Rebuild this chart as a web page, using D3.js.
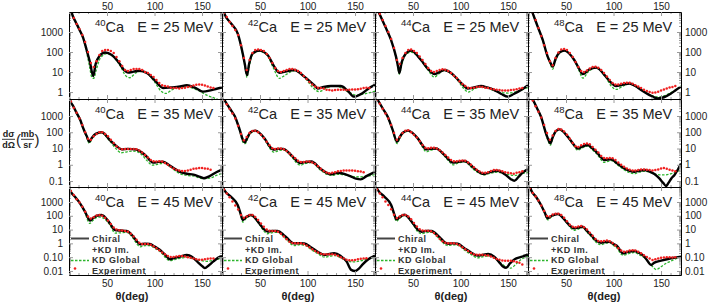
<!DOCTYPE html>
<html>
<head>
<meta charset="utf-8">
<script src="https://cdn.jsdelivr.net/npm/d3@7"></script>
<style>
body { margin: 0; background: #fff; }
svg { display: block; font-family: "Liberation Sans", Arial, sans-serif; }
</style>
</head>
<body>
<div id="chart"></div>
<script>
/*
 *  DATA
 */
var nuclei = ["40", "42", "44", "48"];
var energies = [25, 35, 45];
var thetaDomain = [10, 171];
var thetaTicks = [50, 100, 150];
var yTickRows = [[1, 10, 100, 1000], [0.1, 1, 10, 100, 1000], [0.01, 0.1, 1, 10, 100, 1000]];
var yTickText = [["1", "10", "100", "1000"], ["0.1", "1", "10", "100", "1000"], ["0.01", "0.10", "1", "10", "100", "1000"]];
var yDomains = [[0.45, 10000], [0.043, 11100], [0.0051, 12200]];
var legendText = ["Chiral", "+KD Im.", "KD Global", "Experiment"];

var expAngles = [12,15,18,21,24,27,30,33,36,39,42,45,48,51,54,57,60,63,66,69,72,75,78,81,84,87,90,93,96,99,102,105,108,111,114,117,120,123,126,129,132,135,138,141,144,147,150,153,156,159,162,165];

// 25 MeV
var chiral_40_25 = [[11,20000],[14,6300],[17,3200],[21,1300],[25,500],[28.5,130],[32,32],[35.5,6.3],[38,25],[42,63],[48,95],[55,71],[62,32],[68,12.6],[72,9.5],[78,10.5],[84,11.7],[92,8.9],[100,4],[109,1.6],[117,1.7],[127,1.9],[134,2.2],[143,1.6],[151,1.05],[160,1.26],[171,1.7]];
var kd_40_25 = [[11,20000],[14,6300],[17,3200],[21,1250],[25,450],[28.5,100],[31.5,20],[34,5.5],[36,4.8],[38.5,12],[43,50],[50,83],[57,56],[64,20],[70,6.3],[74,5.2],[80,8.9],[86,11],[93,8],[100,3.2],[107,1.1],[112,0.85],[118,1.26],[126,1.8],[134,1.78],[145,1.26],[155,0.7],[163,0.5],[171,0.35]];
var exp_40_25 = [10000,5000,2500,1400,700,320,100,28,18,35,71,112,126,126,112,89,56,35,20,12.6,11.2,12.6,14,14,14,12.6,10,8.9,7.1,5.6,4,2.8,2.2,2,1.9,1.66,1.58,1.58,1.5,1.58,1.66,1.8,1.9,2.1,2.3,2.4,2.3,2.1,1.9,1.7,1.6,null];

var chiral_42_25 = [[11,15000],[12.4,8500],[19.5,2700],[26.5,850],[31.8,85],[34,25],[36.3,7],[38.5,25],[42.3,85],[49.3,118],[58,71],[65,18.6],[70.3,9.3],[78,11],[86,12.6],[96.6,5.9],[107,2.2],[110.7,1.5],[117,1.8],[124.7,2.0],[135,2.0],[142,1.2],[149,0.59],[158,0.9],[165,1.6],[171,2.3]];
var kd_42_25 = [[11,15000],[12.4,8500],[19.5,2600],[26.5,800],[31.8,75],[34.5,15],[36.3,5.4],[38.5,18],[42.3,75],[49.3,110],[58,63],[64,16],[70.5,4.8],[75,6.3],[86,11.5],[96.6,5.6],[106,1.6],[112,1.05],[120,1.6],[128,2.0],[135,1.7],[143,1.0],[152,0.7],[162,0.85],[171,1.1]];
var exp_42_25 = [8900,5600,3200,2000,1260,700,220,50,12.6,40,89,126,132,126,112,79,50,28,16,11.2,10,11.2,12.6,14,14,13,11.2,8.9,6.3,4.5,3.2,2.4,1.9,1.66,1.6,1.5,1.3,1.26,1.2,1.26,1.3,1.3,1.3,1.26,1.3,1.35,1.35,1.4,1.48,1.58,1.66,1.6];

var chiral_44_25 = [[12,15000],[14.5,8500],[20.8,1860],[26.9,400],[32.1,59],[34,22],[35.6,9],[38,30],[42,80],[47.9,118],[58.4,40],[66,14],[72.5,7.9],[77,9.5],[83,12.6],[90,8.9],[97,4.3],[103,2.2],[107.6,1.5],[114,1.7],[121.6,2.0],[128,1.7],[135.6,1.26],[143,0.8],[149.7,0.59],[156,0.8],[163.7,1.26],[171,2.2]];
var kd_44_25 = [[12,15000],[14.5,8500],[20.8,1800],[26.9,380],[32.1,50],[34,18],[35.6,7.9],[38,22],[42,70],[47.9,100],[58.4,38],[66,12],[72.5,5.6],[77,8],[83,12],[90,8.5],[97,3.8],[103,1.6],[108,1.0],[115,1.5],[122,1.8],[128,1.6],[135.6,1.17],[143,0.95],[150,0.89],[160,1.1],[171,1.7]];
var exp_44_25 = [12600,7900,4000,2000,1000,450,160,40,25,50,89,126,132,112,89,60,40,25,16,11.2,10,11.2,12.6,13.8,13.2,11.2,8.9,6.6,5,3.5,2.5,2,1.66,1.6,1.66,1.8,1.82,1.8,1.66,1.6,1.48,1.38,1.3,1.26,1.2,1.2,1.2,1.26,1.3,1.4,1.5,1.6];

var chiral_48_25 = [[13,15000],[15,8500],[20.2,1860],[25.5,400],[30.7,59],[33.5,30],[36,18.6],[39,45],[43,95],[48.2,118],[58.7,40],[64,14],[67.6,7.9],[74,13],[81.6,16.6],[92,5.9],[98,2.8],[102.6,2.0],[109,2.3],[116.6,2.7],[123,2.0],[129,1.26],[137,0.75],[146.5,0.48],[153,0.55],[160.5,0.85],[166,1.3],[171,1.86]];
var kd_48_25 = [[13,15000],[15,8500],[20.2,1800],[25.5,380],[30.7,55],[33.5,25],[36,14],[39,38],[43,85],[48.2,112],[58.7,38],[64,11],[67.6,5],[74,11],[81.6,15.8],[92,5.2],[98,1.9],[103,1.35],[110,2.0],[117,2.5],[123,1.9],[130,1.26],[138,0.75],[147,0.56],[155,0.7],[163,1.1],[171,2.0]];
var exp_48_25 = [20000,10000,4000,1600,630,220,89,35,22,50,95,132,141,126,89,56,32,18,11.2,10,12,15,18,18.6,16.6,12.6,8.9,6,4,2.8,2.4,2.4,2.6,2.8,2.95,2.9,2.6,2.2,1.9,1.6,1.3,1.12,1.0,0.93,0.95,1.05,1.2,1.35,1.5,1.7,1.8,2.0];

// 35 MeV
var chiral_40_35 = [[10.5,15000],[11,10000],[14.5,4000],[18.1,1500],[22,550],[25,175],[28.5,60],[31.4,26],[34,45],[38,80],[44.4,100],[53,33],[60,14],[65.5,8.9],[72,9.5],[80,8.9],[86,6],[91.8,3.2],[95.5,1.8],[98.7,1.35],[104,1.5],[109,1.55],[116,0.9],[126.8,0.37],[134,0.28],[141,0.25],[148,0.18],[152,0.15],[158,0.2],[165,0.35],[171,0.5]];
var kd_40_35 = [[10.5,15000],[11,10000],[14.5,4000],[18.1,1450],[22,500],[25,160],[28.5,50],[31.4,21],[34,38],[38,70],[44.4,89],[53,28],[60,9],[65,5.5],[71,6.3],[78,7],[86,4.5],[92,1.8],[98,0.95],[104,1.1],[110,1.26],[117,0.7],[126,0.3],[134,0.22],[142,0.2],[150,0.14],[158,0.15],[165,0.22],[171,0.3]];
var exp_40_35 = [7900,3200,1600,700,280,100,40,35,56,79,100,100,79,56,35,22,14,10,8.9,9.3,9.5,9.5,9.3,8.9,7.6,5.6,4,2.8,2,1.66,1.6,1.66,1.6,1.3,1.0,0.76,0.6,0.5,0.45,0.42,0.42,0.45,0.5,0.56,0.6,0.63,0.63,0.6,0.56,0.5,null,null];

var chiral_42_35 = [[11,15000],[12.5,10000],[18,3000],[23.5,950],[28.5,150],[32.5,30],[34,24],[36.5,45],[40,100],[45,126],[55,40],[60,14],[64,8.5],[69,9.5],[74.5,9.5],[83,3.8],[88,1.9],[92,1.3],[97,1.45],[104,1.6],[114,0.55],[121,0.3],[125,0.26],[131,0.32],[136,0.3],[145,0.2],[151,0.14],[156,0.126],[162,0.2],[171,0.37]];
var kd_42_35 = [[11,15000],[12.5,10000],[18,2900],[23.5,900],[28.5,130],[32.5,22],[34.5,20],[37,40],[40,85],[45,112],[55,35],[60,11],[64.5,6],[70,7.5],[75,8],[83,3.2],[88,1.4],[92.5,0.95],[98,1.2],[104,1.35],[114,0.45],[121,0.25],[126,0.22],[132,0.26],[138,0.24],[146,0.2],[155,0.18],[163,0.2],[171,0.25]];
var exp_42_35 = [10000,5200,2800,1400,700,250,79,32,52,89,120,126,100,71,45,26,16,10.5,9.5,10,10,8.9,7.1,5,3.5,2.5,1.8,1.5,1.5,1.6,1.6,1.4,1.12,0.8,0.56,0.42,0.33,0.3,0.32,0.35,0.4,0.42,0.44,0.45,0.45,0.45,0.43,0.4,0.38,0.35,null,null];

var chiral_44_35 = [[12,12000],[12.8,10000],[18,3000],[23.4,900],[28.6,140],[33.2,26],[36,50],[39,90],[44.4,126],[55,42],[60,16],[63.7,8.9],[68,9.5],[74.2,10],[83,4],[88,2],[91.8,1.35],[97,1.5],[104,1.7],[114.6,0.6],[121,0.32],[125,0.27],[131,0.35],[139,0.43],[147,0.25],[153,0.13],[156.6,0.105],[161,0.18],[166,0.35],[171,0.55]];
var kd_44_35 = [[12,12000],[12.8,10000],[18,2900],[23.4,850],[28.6,120],[33.2,20],[36,40],[39,80],[44.4,115],[55,38],[60,12],[64,6.3],[69,8],[74,9],[83,3.5],[88,1.6],[92,1.0],[98,1.3],[104,1.5],[114,0.5],[121,0.28],[125,0.24],[131,0.3],[139,0.35],[148,0.27],[157,0.22],[164,0.28],[171,0.35]];
var exp_44_35 = [10000,5600,2800,1400,700,280,89,35,52,89,126,132,100,71,48,28,16.6,11.2,10.5,11.2,11.2,10,7.9,5.6,4,2.8,2,1.66,1.66,1.8,1.86,1.8,1.4,1.0,0.7,0.5,0.38,0.32,0.32,0.35,0.42,0.47,0.48,0.45,0.4,0.35,0.32,0.3,0.28,0.32,0.35,0.4];

var chiral_48_35 = [[13,15000],[15,10000],[19.5,3000],[23.7,900],[28.9,85],[31,40],[33.5,21],[36,50],[39,110],[42.9,150],[51.8,54],[58,18],[62.3,10],[67,13],[72.8,16.6],[78,10],[83.4,5],[87,2.8],[90.4,1.95],[94,2.1],[97.4,2.14],[104,1.2],[111.4,0.6],[117,0.42],[122,0.37],[127,0.43],[132.5,0.48],[138,0.38],[143,0.27],[148,0.15],[152,0.08],[155.3,0.05],[158,0.08],[161,0.15],[164,0.23],[168,0.55],[171,1.2]];
var kd_48_35 = [[13,15000],[15,10000],[19.5,2900],[23.7,850],[28.9,75],[31,32],[33.5,16],[36,45],[39,100],[42.9,140],[51.8,50],[58,15],[62.3,7.9],[67,11],[72.8,14],[78,8],[83.4,4],[87,2],[90.4,1.4],[94,1.6],[98,1.8],[104,1.0],[111,0.5],[117,0.32],[122,0.28],[127,0.35],[133,0.4],[138,0.35],[143,0.28],[150,0.24],[155,0.24],[162,0.3],[171,0.48]];
var exp_48_35 = [20000,8900,4000,1800,800,280,89,35,63,120,160,150,112,71,40,22,14,12.6,16,19,20,18,12.6,8.3,5.6,3.5,2.6,2.5,2.6,2.5,2,1.4,1.0,0.76,0.6,0.5,0.45,0.45,0.48,0.52,0.52,0.5,0.47,0.45,0.47,0.52,0.6,0.63,0.56,0.5,0.45,0.4];

// 45 MeV
var chiral_40_45 = [[10.5,10000],[11,7400],[16.3,2400],[21.6,800],[26.8,200],[30.3,66],[32,45],[35,65],[39,100],[44.4,115],[53,29],[58.4,9.3],[64,8.5],[70.7,7.9],[77.7,3.1],[81.5,1.4],[84.7,0.85],[90,0.95],[95,0.9],[100,0.6],[105.8,0.33],[111,0.15],[116.3,0.07],[121,0.09],[127,0.11],[134,0.145],[140,0.1],[146,0.04],[151,0.02],[153,0.016],[157,0.025],[162,0.05],[169,0.11],[171,0.12]];
var kd_40_45 = [[10.5,10000],[11,7400],[16.3,2300],[21.6,750],[26.8,170],[30.5,35],[32,28],[35,45],[39,75],[43,80],[53,22],[58.4,5.6],[64,5.8],[70.7,6.3],[77.7,2.2],[81.5,0.9],[85,0.56],[90,0.68],[95,0.7],[100,0.45],[106,0.25],[111,0.1],[116.3,0.056],[122,0.07],[128,0.085],[134,0.1],[142,0.07],[150,0.055],[155,0.05],[162,0.06],[171,0.09]];
var exp_40_45 = [6300,3200,1600,900,450,200,89,63,79,105,112,100,71,45,25,14,10,8.9,8.5,7.9,7.1,5,3.2,1.8,1.12,0.89,0.89,0.89,0.8,0.63,0.45,0.32,0.22,0.16,0.12,0.105,0.105,0.11,0.12,0.12,0.11,0.1,0.09,0.08,0.07,0.066,0.066,0.07,0.076,0.08,0.08,null];

var chiral_42_45 = [[11,12000],[12.4,7400],[19.5,2400],[26.5,600],[29.5,150],[31.8,50],[35,75],[40.5,115],[49.3,28],[54,11],[58,7.1],[63,8],[68.6,7.9],[75,4],[79,2.3],[83,1.2],[86,1.0],[91,1.05],[96.6,1.0],[104,0.5],[110.7,0.25],[117.7,0.145],[123,0.17],[128,0.19],[135,0.12],[141,0.05],[146,0.012],[150,0.01],[154,0.015],[158,0.03],[164,0.07],[171,0.13]];
var kd_42_45 = [[11,12000],[12.4,7400],[19.5,2300],[26.5,560],[29.5,120],[32,35],[35,60],[40.5,100],[49.3,24],[54,8],[58,5],[63,6],[69,6.3],[75,3],[79,1.6],[83,0.85],[86,0.7],[92,0.8],[97,0.75],[104,0.35],[110.7,0.18],[118,0.1],[124,0.12],[129,0.13],[135,0.09],[141,0.055],[148,0.045],[156,0.055],[164,0.075],[171,0.1]];
var exp_42_45 = [7900,4200,2200,1100,560,280,112,71,89,112,112,83,50,28,16,10,8.3,7.9,7.9,7.1,5,3.2,2,1.3,1.05,1.0,1.0,1.0,0.89,0.7,0.52,0.38,0.28,0.22,0.18,0.16,0.16,0.166,0.166,0.15,0.126,0.1,0.08,0.066,0.06,0.06,0.063,0.07,0.076,0.08,0.083,null];

var chiral_44_45 = [[12,10000],[13,7400],[20,2400],[27,600],[30,150],[32.5,55],[36,80],[41,120],[50,28],[55,10],[59,7],[64,8],[69.5,7.9],[76,3.8],[80,2],[84,1.1],[87,0.95],[92,1.0],[97,0.95],[104,0.45],[111,0.22],[118,0.13],[124,0.15],[129,0.17],[136,0.1],[141,0.04],[145,0.02],[148,0.017],[152,0.035],[157,0.07],[163,0.1],[171,0.15]];
var kd_44_45 = [[12,10000],[13,7400],[20,2300],[27,560],[30,120],[32.5,40],[36,65],[41,105],[50,24],[55,7],[59,5],[64,6],[70,6.3],[76,2.8],[80,1.4],[84,0.8],[87,0.7],[93,0.78],[98,0.7],[104,0.33],[111,0.16],[118,0.09],[124,0.11],[130,0.12],[136,0.08],[142,0.04],[148,0.02],[153,0.016],[158,0.03],[164,0.07],[171,0.11]];
var exp_44_45 = [7900,4200,2200,1100,600,300,120,70,90,115,115,89,56,30,17,10.5,8.5,8.3,8.3,7.5,5.6,3.5,2.2,1.4,1.1,1.0,1.0,1.0,0.9,0.72,0.52,0.38,0.28,0.2,0.16,0.15,0.15,0.15,0.14,0.13,0.11,0.09,0.075,0.065,0.058,0.055,0.055,0.055,0.05,0.045,0.04,0.03];

var chiral_48_45 = [[12.5,12000],[13.2,7400],[18.4,2400],[23.7,600],[27.5,180],[30.7,66],[35,100],[41.3,135],[51.8,28],[55.5,16],[58.7,12.3],[63,14],[67.6,16],[72,8],[76.3,4.1],[81,1.8],[86.8,1.12],[91,1.25],[95.6,1.3],[100,0.9],[104.4,0.58],[107,0.3],[109.7,0.19],[115,0.24],[122,0.28],[127,0.2],[132.5,0.11],[136,0.05],[139.5,0.027],[143,0.04],[150,0.056],[160.5,0.083],[171,0.11]];
var kd_48_45 = [[12.5,12000],[13.2,7400],[18.4,2300],[23.7,560],[27.5,160],[30.7,50],[35,90],[41.3,125],[51.8,25],[55.5,12],[59,8.9],[63,11],[68,14],[72,6.5],[76.3,3.2],[81,1.3],[87,0.8],[91,1.0],[96,1.12],[100,0.7],[104.4,0.4],[107,0.2],[110,0.14],[116,0.18],[122,0.22],[127,0.15],[132.5,0.09],[138,0.035],[142,0.018],[145,0.0126],[150,0.02],[155,0.035],[160,0.05],[165,0.075],[171,0.11]];
var exp_48_45 = [10000,4500,2500,1260,560,220,95,89,126,141,141,112,71,40,22,16,15,16.6,18,15,10,6,3.5,2.1,1.5,1.4,1.5,1.6,1.4,1.05,0.7,0.45,0.3,0.25,0.26,0.3,0.32,0.3,0.25,0.19,0.14,0.105,0.08,0.063,0.07,0.08,0.09,0.095,0.1,0.1,0.095,0.1];

var panels = [
    {nuc: "40", e: 25, chiral: chiral_40_25, kd: kd_40_25, exp: exp_40_25},
    {nuc: "42", e: 25, chiral: chiral_42_25, kd: kd_42_25, exp: exp_42_25},
    {nuc: "44", e: 25, chiral: chiral_44_25, kd: kd_44_25, exp: exp_44_25},
    {nuc: "48", e: 25, chiral: chiral_48_25, kd: kd_48_25, exp: exp_48_25},
    {nuc: "40", e: 35, chiral: chiral_40_35, kd: kd_40_35, exp: exp_40_35},
    {nuc: "42", e: 35, chiral: chiral_42_35, kd: kd_42_35, exp: exp_42_35},
    {nuc: "44", e: 35, chiral: chiral_44_35, kd: kd_44_35, exp: exp_44_35},
    {nuc: "48", e: 35, chiral: chiral_48_35, kd: kd_48_35, exp: exp_48_35},
    {nuc: "40", e: 45, chiral: chiral_40_45, kd: kd_40_45, exp: exp_40_45},
    {nuc: "42", e: 45, chiral: chiral_42_45, kd: kd_42_45, exp: exp_42_45},
    {nuc: "44", e: 45, chiral: chiral_44_45, kd: kd_44_45, exp: exp_44_45},
    {nuc: "48", e: 45, chiral: chiral_48_45, kd: kd_48_45, exp: exp_48_45}
];

/*
 *  LAYOUT
 */
var left = 69, panelW = 153;
var rowTop = [12, 99, 187];
var rowBottom = [99, 187, 275];
var frameColor = "#9a9a9a";
var textColor = "#222";
var chiralColor = "#000";
var kdColor = "#2cb52c";
var expColor = "#f02020";
var legendY = [242, 252.5, 263, 273.5];

var svg = d3.select("#chart")
    .append("svg")
        .attr("width", 708)
        .attr("height", 305);

function styleAxis(g) {
    g.select(".domain").attr("stroke", frameColor);
    g.selectAll(".tick line").attr("stroke", frameColor);
    g.selectAll(".tick text")
        .attr("fill", textColor)
        .style("font-size", "10px")
        .style("font-family", "'Liberation Sans', Arial, sans-serif");
}

panels.forEach(function(p, k) {
    var r = energies.indexOf(p.e);
    var c = nuclei.indexOf(p.nuc);
    var x0 = left + c * panelW;

    var x = d3.scaleLinear().domain(thetaDomain).range([x0, x0 + panelW]);
    var y = d3.scaleLog().domain(yDomains[r]).range([rowBottom[r], rowTop[r]]);

    var majorY = yTickRows[r];
    var minorY = y.ticks().filter(function(d) { return majorY.indexOf(d) < 0; });
    var minorX = x.ticks(16).filter(function(d) { return thetaTicks.indexOf(d) < 0; });
    var yFmt = function(d) { return yTickText[r][majorY.indexOf(d)]; };

    // clip
    svg.append("clipPath")
        .attr("id", "clip" + k)
      .append("rect")
        .attr("x", x0)
        .attr("y", rowTop[r])
        .attr("width", panelW)
        .attr("height", rowBottom[r] - rowTop[r]);

    var plot = svg.append("g").attr("clip-path", "url(#clip" + k + ")");

    var line = d3.line()
        .x(function(d) { return x(d[0]); })
        .y(function(d) { return y(d[1]); })
        .curve(d3.curveMonotoneX);

    plot.append("path")
        .datum(p.kd)
        .attr("fill", "none")
        .attr("stroke", kdColor)
        .attr("stroke-width", 1.3)
        .attr("stroke-dasharray", "2.5,1.5")
        .attr("d", line);

    plot.append("path")
        .datum(p.chiral)
        .attr("fill", "none")
        .attr("stroke", chiralColor)
        .attr("stroke-width", 2.4)
        .attr("d", line);

    var pts = expAngles.map(function(a, i) { return [a, p.exp[i]]; })
        .filter(function(d) { return d[1] != null; });

    plot.selectAll("circle.exp")
        .data(pts)
        .enter().append("circle")
        .attr("class", "exp")
        .attr("cx", function(d) { return x(d[0]); })
        .attr("cy", function(d) { return y(d[1]); })
        .attr("r", 1.25)
        .attr("fill", expColor);

    // frame with ticks on all sides
    var gl = svg.append("g").attr("transform", "translate(" + x0 + ",0)");
    gl.append("g").call(d3.axisLeft(y).tickValues(minorY).tickSize(-2).tickSizeOuter(0).tickFormat(""));
    gl.append("g").call(d3.axisLeft(y).tickValues(majorY).tickSize(-4).tickSizeOuter(0).tickPadding(6)
        .tickFormat(c == 0 ? yFmt : ""));
    styleAxis(gl);

    var gr = svg.append("g").attr("transform", "translate(" + (x0 + panelW) + ",0)");
    gr.append("g").call(d3.axisRight(y).tickValues(minorY).tickSize(-2).tickSizeOuter(0).tickFormat(""));
    gr.append("g").call(d3.axisRight(y).tickValues(majorY).tickSize(-4).tickSizeOuter(0).tickPadding(4)
        .tickFormat(c == 3 ? yFmt : ""));
    styleAxis(gr);

    var gt = svg.append("g").attr("transform", "translate(0," + rowTop[r] + ")");
    gt.append("g").call(d3.axisTop(x).tickValues(minorX).tickSize(-2).tickSizeOuter(0).tickFormat(""));
    gt.append("g").call(d3.axisTop(x).tickValues(thetaTicks).tickSize(-4).tickSizeOuter(0).tickPadding(2)
        .tickFormat(r == 0 ? d3.format("d") : ""));
    styleAxis(gt);

    var gb = svg.append("g").attr("transform", "translate(0," + rowBottom[r] + ")");
    gb.append("g").call(d3.axisBottom(x).tickValues(minorX).tickSize(-2).tickSizeOuter(0).tickFormat(""));
    gb.append("g").call(d3.axisBottom(x).tickValues(thetaTicks).tickSize(-4).tickSizeOuter(0).tickPadding(5)
        .tickFormat(r == 2 ? d3.format("d") : ""));
    styleAxis(gb);

    // panel title
    var title = svg.append("text")
        .attr("x", x0 + 26)
        .attr("y", rowTop[r] + 20)
        .attr("fill", textColor)
        .style("font-size", "14.5px");
    title.append("tspan").style("font-size", "9.5px").attr("dy", -6).text(p.nuc);
    title.append("tspan").attr("dy", 6).text("Ca");
    title.append("tspan").attr("dx", 13).text("E = " + p.e + " MeV");

    if (r == 2) {
        // x axis title
        svg.append("text")
            .attr("x", x0 + (c == 0 ? 63 : 76))
            .attr("y", 300)
            .attr("text-anchor", "middle")
            .attr("fill", textColor)
            .style("font-size", "11px")
            .style("font-weight", "bold")
            .text("\u03b8(deg)");

        // legend
        var lg = svg.append("g")
            .attr("fill", "#333")
            .style("font-size", "9px")
            .style("font-weight", "bold")
            .style("letter-spacing", "0.5px");
        lg.append("line")
            .attr("x1", x0 + 2).attr("x2", x0 + 20)
            .attr("y1", legendY[0] - 3.5).attr("y2", legendY[0] - 3.5)
            .attr("stroke", "#444").attr("stroke-width", 2);
        lg.append("line")
            .attr("x1", x0 + 2).attr("x2", x0 + 20)
            .attr("y1", legendY[2] - 2.5).attr("y2", legendY[2] - 2.5)
            .attr("stroke", kdColor).attr("stroke-width", 1.3)
            .attr("stroke-dasharray", "2.5,1.5");
        lg.append("circle")
            .attr("cx", x0 + 6).attr("cy", legendY[3] - 5).attr("r", 1.3)
            .attr("fill", expColor);
        lg.selectAll("text")
            .data(legendText)
            .enter().append("text")
            .attr("x", x0 + 23)
            .attr("y", function(d, i) { return legendY[i]; })
            .text(function(d) { return d; });
    }
});

// y axis title: d sigma / d Omega (mb / sr)
var yl = svg.append("g")
    .attr("fill", textColor)
    .style("font-size", "9px")
    .style("font-weight", "bold");
yl.append("text").attr("x", 8.5).attr("y", 136.5).attr("text-anchor", "middle").text("d\u03c3");
yl.append("line").attr("x1", 2).attr("x2", 15).attr("y1", 139.3).attr("y2", 139.3)
    .attr("stroke", textColor).attr("stroke-width", 0.9);
yl.append("text").attr("x", 8.5).attr("y", 148).attr("text-anchor", "middle").text("d\u03a9");
yl.append("text").attr("x", 16).attr("y", 145).style("font-size", "15px").style("font-weight", "normal").text("(");
yl.append("text").attr("x", 27.5).attr("y", 136.5).attr("text-anchor", "middle").text("mb");
yl.append("line").attr("x1", 21).attr("x2", 34).attr("y1", 139.3).attr("y2", 139.3)
    .attr("stroke", textColor).attr("stroke-width", 0.9);
yl.append("text").attr("x", 27.5).attr("y", 148).attr("text-anchor", "middle").text("sr");
yl.append("text").attr("x", 34.5).attr("y", 145).style("font-size", "15px").style("font-weight", "normal").text(")");
</script>
</body>
</html>
